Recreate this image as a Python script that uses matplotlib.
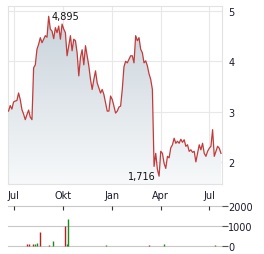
import matplotlib
matplotlib.use("Agg")
import matplotlib.pyplot as plt
import matplotlib.dates as mdates
from matplotlib.colors import LinearSegmentedColormap
import numpy as np
import pandas as pd

# price series (roughly every 3 days)
prices = [3.01, 3.12, 3.05, 3.19, 3.21, 3.22, 3.37, 3.24, 3.04, 2.95,
          2.84, 2.94, 3.03, 2.89, 2.84, 3.87, 3.93, 4.24, 4.34, 4.47,
          4.37, 4.44, 4.51, 4.48, 4.895, 4.64, 4.60, 4.45, 4.67, 4.57,
          4.70, 4.44, 4.74, 4.64, 4.57, 4.11, 4.31, 4.51, 4.21, 4.44,
          4.41, 4.17, 3.71, 4.08, 4.23, 3.93, 4.31, 4.11, 3.91, 3.64,
          3.44, 3.64, 3.81, 3.57, 3.47, 3.37, 3.44, 3.34, 3.17, 3.01,
          3.01, 3.31, 3.24, 3.11, 2.97, 3.01, 3.09, 3.11, 3.44, 3.89,
          4.00, 3.97, 4.04, 4.11, 4.11, 3.97, 4.51, 4.41, 4.47, 4.24,
          4.17, 3.97, 4.01, 3.91, 3.75, 3.64, 3.44, 1.91, 2.17, 1.85,
          1.716, 2.21, 2.17, 1.97, 1.87, 2.11, 2.08, 2.28, 2.34, 2.47,
          2.37, 2.41, 2.37, 2.45, 2.39, 2.44, 2.31, 2.34, 2.21, 2.24,
          2.19, 2.21, 2.00, 2.17, 2.34, 2.24, 2.37, 2.17, 2.11, 2.21,
          2.27, 2.31, 2.64, 2.11, 2.21, 2.31, 2.27, 2.17]
dates = pd.date_range("2024-06-21", "2025-07-23", periods=len(prices))

vol_dates = pd.to_datetime(["2024-07-26", "2024-07-29", "2024-08-06", "2024-08-09",
                            "2024-08-13", "2024-08-19", "2024-09-04", "2024-09-13",
                            "2024-10-04", "2024-10-09", "2024-10-11", "2024-12-20",
                            "2025-03-10", "2025-04-07", "2025-07-11"])
vol_values = [100, 100, 100, 80, 150, 717, 50, 267, 1017, 80, 1350, 30, 40, 120, 60]
vol_up = [False, False, False, True, True, False, False, True, False, True, True, True,
          False, True, True]

month_ticks = pd.to_datetime(["2024-07-01", "2024-10-01", "2025-01-01", "2025-04-01", "2025-07-01"])
month_labels = ["Jul", "Okt", "Jan", "Apr", "Jul"]
price_ticks = [2, 3, 4, 5]
vol_ticks = [0, 1000, 2000]

W, H = 264, 255
fig = plt.figure(figsize=(W / 100, H / 100), dpi=100)
xlim = (pd.Timestamp("2024-06-20"), pd.Timestamp("2025-07-24"))

# main price panel
ax = fig.add_axes([8 / W, 70 / H, 213.5 / W, 178 / H])
ax.set_xlim(xlim)
ax.set_ylim(1.56, 5.1)
ax.grid(True, color="#e8e8e8", lw=0.8)
ax.set_axisbelow(True)
for s in ax.spines.values():
    s.set_color("#e2e2e2")
    s.set_linewidth(0.8)

x = mdates.date2num(dates)
poly = ax.fill_between(x, prices, 1.56, color="none", lw=0)
cmap = LinearSegmentedColormap.from_list("g", ["#f7f9fa", "#c9d3db"])
grad = np.linspace(0, 1, 256).reshape(-1, 1)
im = ax.imshow(grad, cmap=cmap, aspect="auto", origin="lower",
               extent=[x[0], x[-1], 1.56, 4.9], zorder=1)
path = poly.get_paths()[0]
im.set_clip_path(path, transform=ax.transData)
ax.plot(x, prices, color="#c23b3b", lw=0.9, zorder=3)

imax = int(np.argmax(prices))
imin = int(np.argmin(prices))
ax.text(x[imax] + 6, prices[imax], "4,895", fontsize=7, color="#111111",
        ha="left", va="center")
ax.text(x[imin] - 6, prices[imin], "1,716", fontsize=7, color="#111111",
        ha="right", va="center")

ax.set_xticks(mdates.date2num(month_ticks))
ax.set_xticklabels(month_labels)
ax.set_yticks(price_ticks)
ax.yaxis.tick_right()
ax.tick_params(axis="both", length=0, labelsize=7, colors="#1a1a2e")
ax.tick_params(axis="y", pad=5)
ax.tick_params(axis="x", pad=4)

# volume panel
av = fig.add_axes([8 / W, 6 / H, 213.5 / W, 42 / H])
av.set_xlim(xlim)
av.set_ylim(-100, 2000)
for s in av.spines.values():
    s.set_visible(False)
for v in vol_ticks:
    av.axhline(v, color="#c8c8c8", lw=0.8, clip_on=False, zorder=0)
cols = ["#1a8a1a" if u else "#b22222" for u in vol_up]
av.vlines(mdates.date2num(vol_dates), 0, vol_values, colors=cols, lw=1.0, zorder=2)
av.set_xticks(mdates.date2num(month_ticks))
av.set_xticklabels([])
av.tick_params(axis="x", bottom=False, top=True, direction="in", length=3,
               width=0.8, color="#333333")
av.set_yticks(vol_ticks)
av.yaxis.tick_right()
av.tick_params(axis="y", length=4, width=0.8, color="#555555", pad=1,
               labelsize=7, labelcolor="#1a1a2e")

fig.savefig("out.png", dpi=100)
